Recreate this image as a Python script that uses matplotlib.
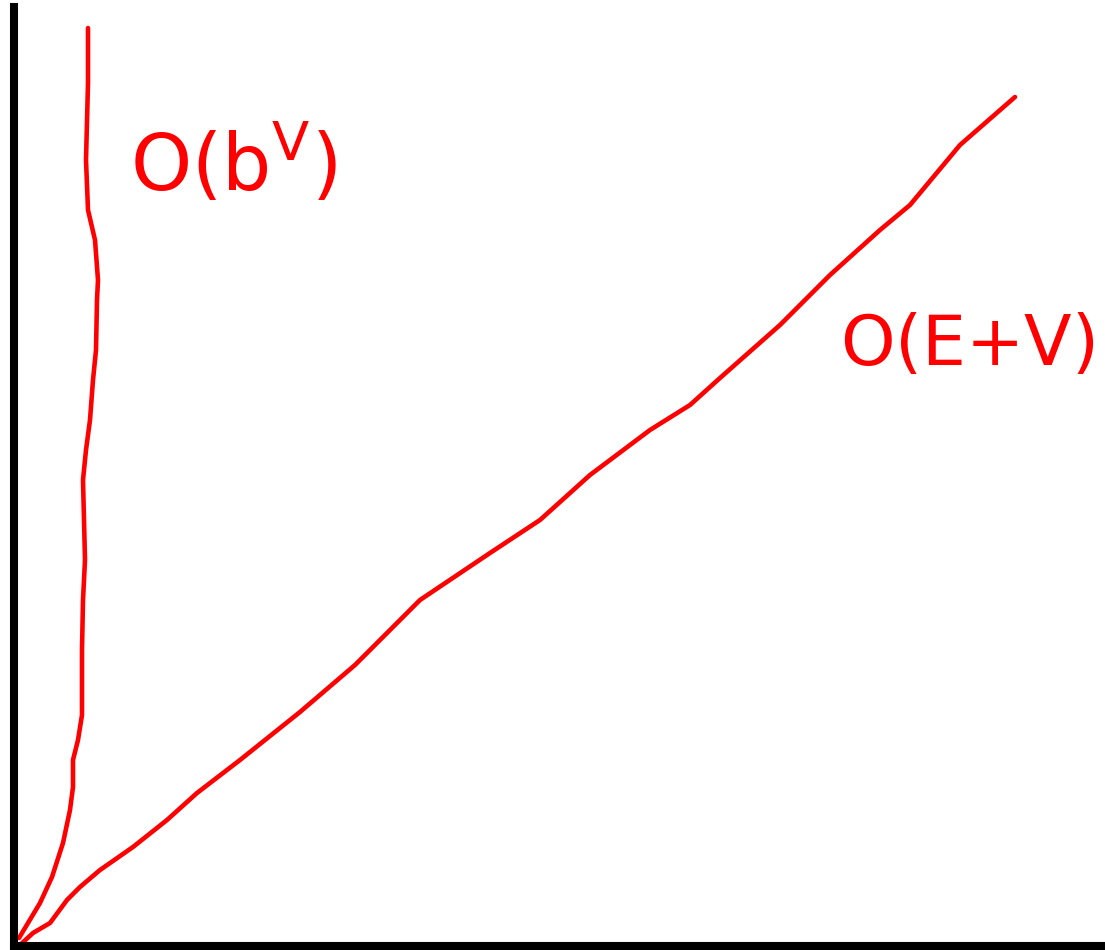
import matplotlib
matplotlib.use("Agg")
import matplotlib.pyplot as plt

# Sketched growth curves: input size (x) vs. running time (y)
exp_x = [5, 14, 26, 38, 49, 56, 59, 59, 64, 68, 68, 69, 71, 70, 69, 72, 76, 79,
         82, 83, 84, 81, 74, 72, 74, 74]
exp_y = [8, 23, 43, 69, 103, 136, 159, 186, 206, 231, 296, 346, 386, 426, 466,
         496, 526, 566, 596, 646, 666, 706, 736, 786, 863, 918]

lin_x = [6, 19, 36, 53, 66, 86, 119, 153, 183, 226, 286, 341, 406, 476, 526,
         576, 636, 676, 706, 766, 816, 866, 896, 946, 1001]
lin_y = [1, 13, 23, 46, 59, 76, 99, 126, 153, 186, 234, 281, 346, 393, 426,
         471, 516, 541, 568, 621, 671, 716, 741, 801, 849]

labels = [r"$\mathregular{O(b^{V})}$", r"$\mathregular{O(E{+}V)}$"]
label_pos = [(116, 781), (826, 601)]
label_size = [56, 50]

W, H = 1105, 950
fig = plt.figure(figsize=(W / 100, H / 100), dpi=100)
ax = fig.add_axes([14 / W, 4 / H, (W - 14) / W, (946 - 7) / H])
ax.set_xlim(0, W - 14)
ax.set_ylim(0, 946 - 7)

red = "#ff0000"
for xs, ys in ((exp_x, exp_y), (lin_x, lin_y)):
    ax.plot(xs, ys, color=red, lw=3.3, solid_capstyle="round",
            solid_joinstyle="round")

for txt, (x, y), fs in zip(labels, label_pos, label_size):
    ax.text(x, y, txt, color=red, fontsize=fs, ha="left", va="center")

for side in ("top", "right"):
    ax.spines[side].set_visible(False)
for side in ("left", "bottom"):
    ax.spines[side].set_linewidth(5.8)
    ax.spines[side].set_color("black")
ax.set_xticks([])
ax.set_yticks([])
ax.patch.set_alpha(0)

fig.savefig("out.png", dpi=100, facecolor="white")
